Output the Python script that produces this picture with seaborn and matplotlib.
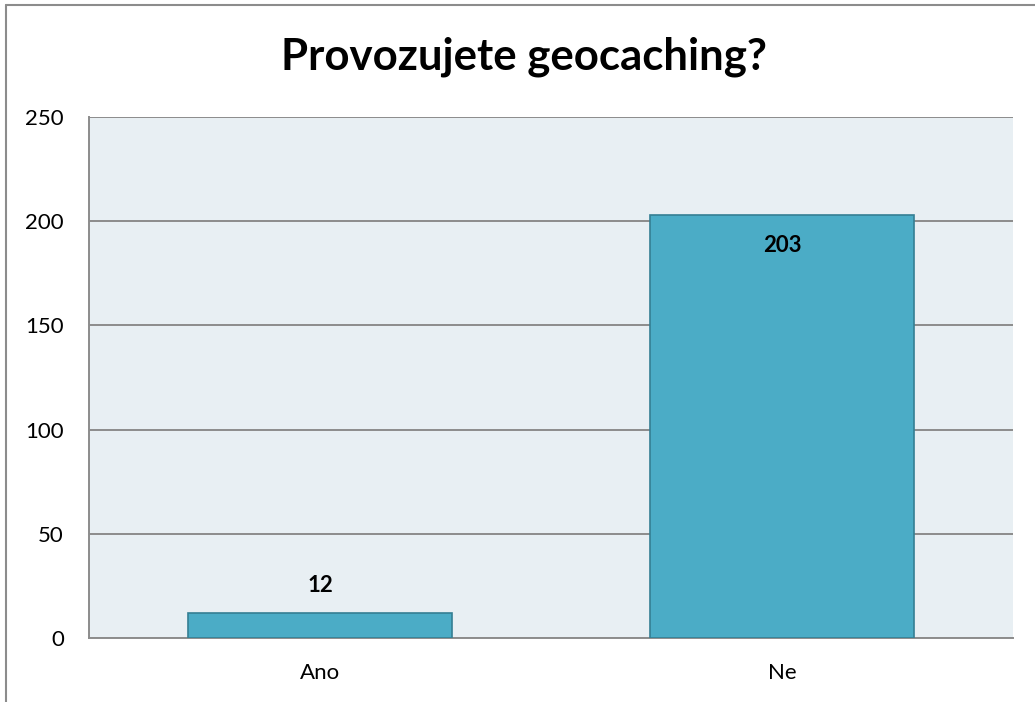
import matplotlib.pyplot as plt
import seaborn as sns
from matplotlib.lines import Line2D

categories = ['Ano', 'Ne']
counts = [12, 203]
label_offsets = [20, -22]   # points above / inside the bar top

sns.set_style("white")
plt.rcParams['font.family'] = ['Lato', 'DejaVu Sans']
plt.rcParams['text.color'] = 'black'

fig = plt.figure(figsize=(10.35, 7.02), dpi=100)
ax = fig.add_axes([89 / 1035, 1 - 638 / 702, 924 / 1035, 521 / 702])
ax.set_facecolor('#E8EFF3')

sns.barplot(x=categories, y=counts, color='#4BACC6', saturation=1, width=0.57,
            edgecolor='#357F93', linewidth=1.2, ax=ax, zorder=3)

ax.set_ylim(0, 250)
ax.set_yticks(range(0, 251, 50))
ax.yaxis.grid(True, color='#8C8C8C', linewidth=1.4, zorder=0)
ax.set_axisbelow(True)
ax.set_xlabel('')
ax.set_ylabel('')
ax.tick_params(axis='both', length=0, labelsize=16, colors='black')
ax.tick_params(axis='y', pad=18)
ax.tick_params(axis='x', pad=18)

for side in ['top', 'right']:
    ax.spines[side].set_visible(False)
for side in ['left', 'bottom']:
    ax.spines[side].set_color('#8C8C8C')
    ax.spines[side].set_linewidth(1.4)

for bar, val, off in zip(ax.patches, counts, label_offsets):
    ax.annotate(str(val), (bar.get_x() + bar.get_width() / 2, val),
                xytext=(0, off), textcoords='offset points',
                ha='center', va='center', fontsize=16, fontweight='bold', color='black')

fig.text(524 / 1035, 1 - 57 / 702, 'Provozujete geocaching?', ha='center', va='center',
         fontsize=31.5, fontweight='bold', color='black')

# outer frame of the chart
fig.add_artist(Line2D([6 / 1035, 6 / 1035], [0, 1 - 5 / 702], transform=fig.transFigure,
                      color='#8C8C8C', linewidth=1.5))
fig.add_artist(Line2D([6 / 1035, 1], [1 - 5 / 702, 1 - 5 / 702], transform=fig.transFigure,
                      color='#8C8C8C', linewidth=1.5))

plt.savefig('out.png', dpi=100)
plt.close()
